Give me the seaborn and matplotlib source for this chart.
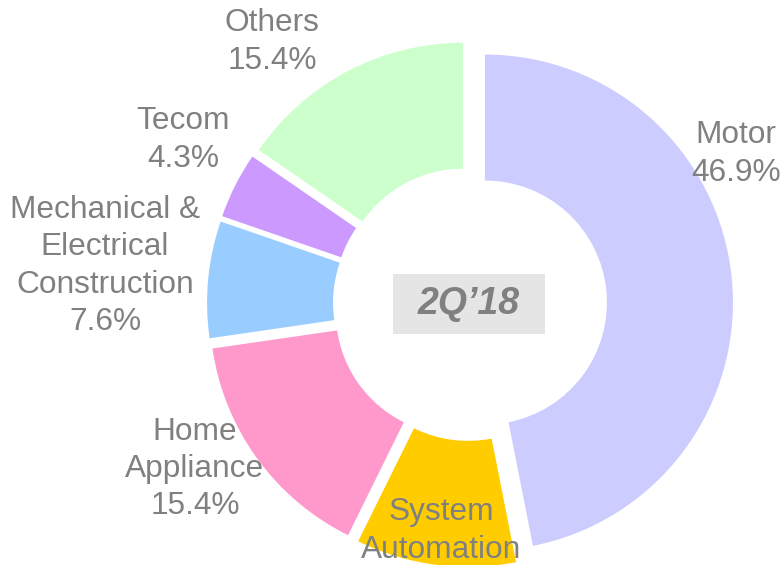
import matplotlib
matplotlib.use("Agg")
import matplotlib.pyplot as plt
from matplotlib.patches import Rectangle
import seaborn as sns

categories = ["Motor", "System Automation", "Home Appliance",
              "Mechanical & Electrical Construction", "Tecom", "Others"]
shares = [46.9, 10.4, 15.4, 7.6, 4.3, 15.4]
label_texts = ["Motor\n46.9%", "System\nAutomation", "Home\nAppliance\n15.4%",
               "Mechanical &\nElectrical\nConstruction\n7.6%", "Tecom\n4.3%", "Others\n15.4%"]
colors = ["#CCCCFF", "#FFCC00", "#FF99CC", "#99CCFF", "#CC99FF", "#CCFFCC"]
center_label = "2Q\u201918"

sns.set_theme(style="white")
plt.rcParams["font.family"] = ["Liberation Sans", "DejaVu Sans"]

W, H = 784, 565
fig = plt.figure(figsize=(W / 100, H / 100), dpi=100)
ax = fig.add_axes([0, 0, 1, 1])

cx, cy = 470, H - 304
R = 248
ring = 126
ax.pie(shares, colors=colors, startangle=90, counterclock=False,
       radius=R, center=(cx, cy), explode=[15] * len(shares),
       wedgeprops=dict(width=ring, linewidth=0), frame=True)
ax.set_xlim(0, W)
ax.set_ylim(0, H)
ax.set_aspect("equal")
ax.axis("off")

# label block centres (image pixel coords)
label_pos = [(736, 154), (441, 531), (195, 469), (105, 266), (183, 140), (272, 42)]
for txt, (x, y) in zip(label_texts, label_pos):
    ax.text(x, H - y, txt, ha="center", va="center", multialignment="center",
            fontsize=22.8, color="#808080", linespacing=1.32)

ax.add_patch(Rectangle((393, H - 334), 152, 60, facecolor="#E5E5E5",
                       edgecolor="none", zorder=3))
ax.text(469, H - 304, center_label, ha="center", va="center", fontsize=27,
        fontweight="bold", fontstyle="italic", color="#808080", zorder=4)

fig.savefig("out.png", dpi=100)
